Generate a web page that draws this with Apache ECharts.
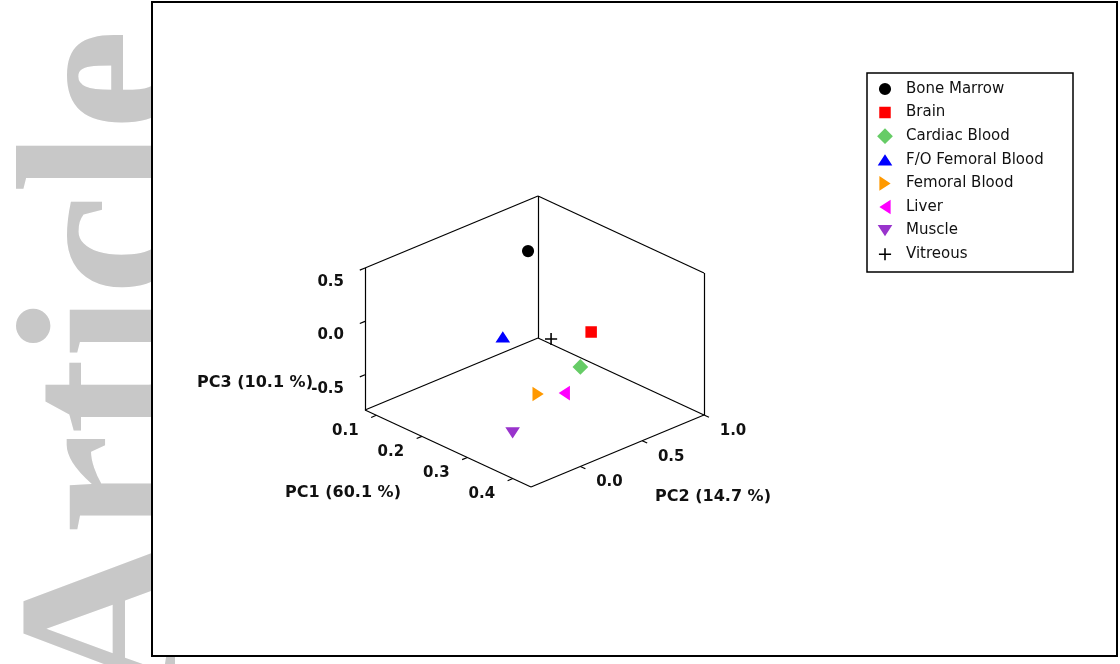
<!DOCTYPE html>
<html>
<head>
<meta charset="utf-8">
<title>PCA 3D scatter</title>
<script src="https://cdn.jsdelivr.net/npm/echarts@6/dist/echarts.min.js"></script>
<style>
  html, body { margin: 0; padding: 0; background: #fff; }
  #main { width: 1120px; height: 664px; }
</style>
</head>
<body>
<div id="main"></div>
<script>
// data
const groups = ['Bone Marrow', 'Brain', 'Cardiac Blood', 'F/O Femoral Blood', 'Femoral Blood', 'Liver', 'Muscle', 'Vitreous']
const pc1 = [0.149, 0.328, 0.351, 0.231, 0.357, 0.382, 0.339, 0.304]
const pc2 = [0.647, 0.499, 0.327, 0.141, -0.037, 0.083, -0.177, 0.263]
const pc3 = [0.300, -0.032, -0.231, -0.098, -0.298, -0.298, -0.630, -0.032]
const pc1Ticks = [0.1, 0.2, 0.3, 0.4]
const pc2Ticks = [0.0, 0.5, 1.0]
const pc3Ticks = [0.5, 0.0, -0.5]
const axisNames = ['PC1 (60.1 %)', 'PC2 (14.7 %)', 'PC3 (10.1 %)']
const pc1Range = [0.075, 0.44]
const pc2Range = [-0.40, 1.0]
const pc3Range = [-0.83, 0.5]

// marker styles: every marker sits in the same 16x16 box so legend and plot match
const colors = ['#000000', '#ff0000', '#66cc66', '#0000ff', '#ff9900', '#ff00ff', '#9933cc', '#000000']
const pad = 'M0,0L0.01,0L0,0.01ZM16,16L15.99,16L16,15.99Z'
const shapes = [
  'M2.6,8A5.4,5.4,0,1,1,13.4,8A5.4,5.4,0,1,1,2.6,8Z',
  'M2.9,2.9H13.1V13.1H2.9Z',
  'M8,1L15,8L8,15L1,8Z',
  'M8,3L14.5,13L1.5,13Z',
  'M3,1.5L13,8L3,14.5Z',
  'M13,1.5L3,8L13,14.5Z',
  'M1.5,3L14.5,3L8,13Z',
  'M7.3,2.6H8.7V7.3H13.4V8.7H8.7V13.4H7.3V8.7H2.6V7.3H7.3Z'
]
const symbols = shapes.map(s => 'path://' + pad + s)

// oblique projection of the box onto the page
const box = { x: 365, y: 410, ax: 166, ay: 77, bx: 173, by: -72, h: 142 }
const norm = (v, r) => (v - r[0]) / (r[1] - r[0])
function proj(a, b, c) {
  const u = norm(a, pc1Range), v = norm(b, pc2Range), w = norm(c, pc3Range)
  return [box.x + u * box.ax + v * box.bx, box.y + u * box.ay + v * box.by - w * box.h]
}

const [lo1, hi1] = pc1Range
const [lo2, hi2] = pc2Range
const [lo3, hi3] = pc3Range
const edges = [
  [[lo1, lo2, lo3], [hi1, lo2, lo3]],
  [[hi1, lo2, lo3], [hi1, hi2, lo3]],
  [[lo1, lo2, lo3], [lo1, hi2, lo3]],
  [[lo1, hi2, lo3], [hi1, hi2, lo3]],
  [[lo1, lo2, lo3], [lo1, lo2, hi3]],
  [[lo1, hi2, lo3], [lo1, hi2, hi3]],
  [[hi1, hi2, lo3], [hi1, hi2, hi3]],
  [[lo1, lo2, hi3], [lo1, hi2, hi3]],
  [[lo1, hi2, hi3], [hi1, hi2, hi3]]
]
const d2 = 0.03 * (hi2 - lo2), d1 = 0.03 * (hi1 - lo1)
const ticks = []
pc1Ticks.forEach(t => ticks.push([[t, lo2, lo3], [t, lo2 - d2, lo3]]))
pc2Ticks.forEach(t => ticks.push([[hi1, t, lo3], [hi1 + d1, t, lo3]]))
pc3Ticks.forEach(t => ticks.push([[lo1, lo2, t], [lo1, lo2 - d2, t]]))

const labelFont = { color: '#111', fontSize: 15, fontWeight: 'bold', fontFamily: 'DejaVu Sans' }
const titleFont = 'bold 16px "DejaVu Sans"'

function tickLabels(items, offset, align) {
  return {
    type: 'scatter',
    symbolSize: 1,
    silent: true,
    itemStyle: { color: 'rgba(0,0,0,0)', opacity: 1 },
    data: items.map(d => ({ name: d[0].toFixed(1), value: d[1] })),
    label: Object.assign({ show: true, position: 'inside', offset, align, formatter: '{b}' }, labelFont)
  }
}

const chart = echarts.init(document.getElementById('main'))
let option = {
  animation: false,
  grid: { left: 0, top: 0, right: 0, bottom: 0 },
  xAxis: { type: 'value', min: 0, max: 1120, show: false },
  yAxis: { type: 'value', min: 0, max: 664, inverse: true, show: false },
  legend: {
    data: groups,
    orient: 'vertical',
    left: 876,
    top: 80,
    padding: 0,
    itemWidth: 18,
    itemHeight: 18,
    itemGap: 5.6,
    selectedMode: false,
    itemStyle: { opacity: 1 },
    textStyle: { fontSize: 15, fontFamily: 'DejaVu Sans', color: '#111', padding: [0, 0, 0, 7] }
  },
  graphic: [
    {
      type: 'text', x: 116, y: 700, rotation: Math.PI / 2, z: 0, z2: 0, silent: true,
      style: { text: 'Article', font: 'bold 228px "Liberation Serif"', fill: '#c8c8c8', textAlign: 'left', textVerticalAlign: 'middle' }
    },
    {
      type: 'rect', z: 0, z2: 1, silent: true,
      shape: { x: 152, y: 2, width: 965, height: 654 },
      style: { fill: '#fff', stroke: '#000', lineWidth: 2 }
    },
    {
      type: 'rect', z: 0, z2: 2, silent: true,
      shape: { x: 867, y: 73, width: 206, height: 199 },
      style: { fill: 'none', stroke: '#000', lineWidth: 1.5 }
    },
    { type: 'text', x: 343, y: 493, z: 0, z2: 3, style: { text: axisNames[0], font: titleFont, fill: '#111', textAlign: 'center', textVerticalAlign: 'middle' } },
    { type: 'text', x: 713, y: 497, z: 0, z2: 3, style: { text: axisNames[1], font: titleFont, fill: '#111', textAlign: 'center', textVerticalAlign: 'middle' } },
    { type: 'text', x: 255, y: 383, z: 0, z2: 3, style: { text: axisNames[2], font: titleFont, fill: '#111', textAlign: 'center', textVerticalAlign: 'middle' } }
  ],
  series: [
    {
      type: 'lines',
      coordinateSystem: 'cartesian2d',
      silent: true,
      lineStyle: { color: '#000', width: 1.2, opacity: 1 },
      data: edges.concat(ticks).map(e => ({ coords: e.map(p => proj(p[0], p[1], p[2])) }))
    },
    tickLabels(pc1Ticks.map(t => [t, proj(t, lo2, lo3)]), [-31, 16], 'center'),
    tickLabels(pc2Ticks.map(t => [t, proj(hi1, t, lo3)]), [29, 16], 'center'),
    tickLabels(pc3Ticks.map(t => [t, proj(lo1, lo2, t)]), [-21, 14], 'right')
  ].concat(groups.map((g, i) => ({
    type: 'scatter',
    name: g,
    symbol: symbols[i],
    symbolSize: 18,
    itemStyle: { color: colors[i], opacity: 1 },
    z: 3,
    data: [proj(pc1[i], pc2[i], pc3[i])]
  })))
}
chart.setOption(option)
</script>
</body>
</html>
